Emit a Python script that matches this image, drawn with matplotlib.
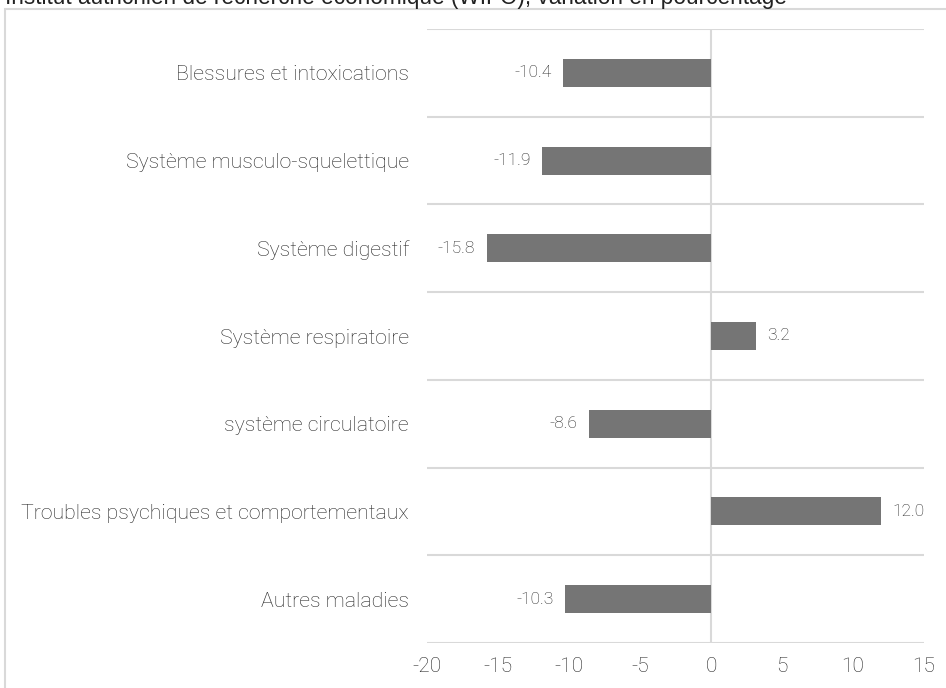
import matplotlib.pyplot as plt
from matplotlib.patches import Rectangle

categories = ['Blessures et intoxications', 'Système musculo-squelettique', 'Système digestif',
              'Système respiratoire', 'système circulatoire',
              'Troubles psychiques et comportementaux', 'Autres maladies']
values = [-10.4, -11.9, -15.8, 3.2, -8.6, 12.0, -10.3]
xticks = [-20, -15, -10, -5, 0, 5, 10, 15]
title = 'Institut autrichien de recherche économique (WIFO), variation en pourcentage'

plt.rcParams['font.family'] = ['Roboto', 'DejaVu Sans']
txt_col = '#262626'

fig = plt.figure(figsize=(9.46, 6.88), dpi=100)
fig.patches.append(Rectangle((5 / 946, -0.01), 1.0, 1 - 9 / 688 + 0.01, transform=fig.transFigure,
                             fill=False, edgecolor='#d9d9d9', linewidth=1.5))
fig.text(5 / 946, 1 - 4 / 688, title, fontsize=16.3, family='Liberation Sans',
         color='#222222', va='baseline')

ax = fig.add_axes([427 / 946, 1 - 643 / 688, 497 / 946, 614 / 688])
n = len(categories)
ypos = list(range(n))
ax.barh(ypos, values, height=0.32, color='#757575', zorder=3)

for y, v in zip(ypos, values):
    if v < 0:
        ax.text(v - 0.8, y, f'{v:.1f}', ha='right', va='center', fontsize=12.5,
                color=txt_col, fontweight='light')
    else:
        ax.text(v + 0.75, y, f'{v:.1f}', ha='left', va='center', fontsize=12.5,
                color=txt_col, fontweight='light')

ax.set_xlim(-20, 15)
ax.set_ylim(n - 0.5, -0.5)
ax.set_xticks(xticks)
ax.set_xticklabels([str(t) for t in xticks], fontsize=15, color=txt_col, fontweight='light')
ax.set_yticks(ypos)
ax.set_yticklabels(categories, fontsize=15.3, color=txt_col, fontweight='light')
ax.set_yticks([i - 0.5 for i in range(n + 1)], minor=True)
ax.tick_params(axis='both', which='both', length=0)
ax.tick_params(axis='y', pad=13)
ax.tick_params(axis='x', pad=10)
ax.grid(axis='y', which='minor', color='#d9d9d9', linewidth=1.5, zorder=0)
ax.axvline(0, color='#d9d9d9', linewidth=1.5, zorder=2)
for s in ax.spines.values():
    s.set_visible(False)

plt.savefig('out.png', dpi=100)
plt.close()
